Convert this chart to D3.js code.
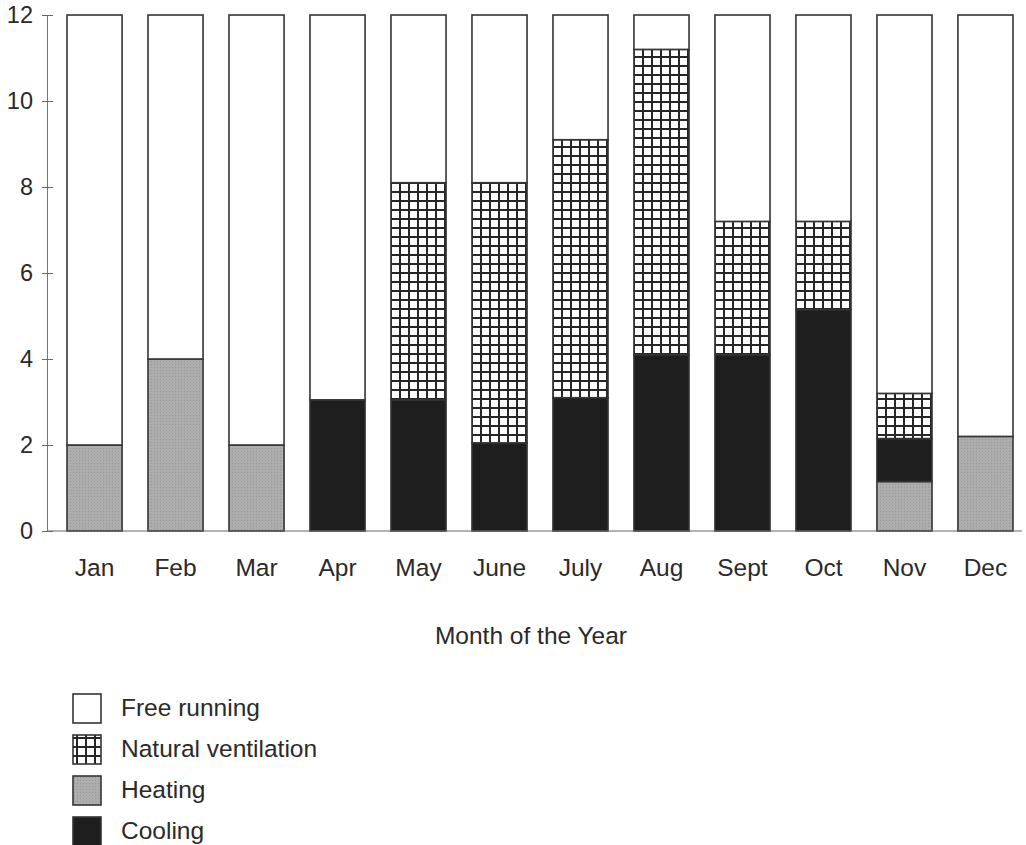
<!DOCTYPE html>
<html>
<head>
<meta charset="utf-8">
<script src="https://cdn.jsdelivr.net/npm/d3@7"></script>
<style>
  html, body { margin: 0; padding: 0; background: #fff; }
  svg text { font-family: "Liberation Sans", Arial, Helvetica, sans-serif; fill: #2a2a2a; }
</style>
</head>
<body>
<svg id="chart" width="1026" height="845"></svg>
<script>
// Hours per day in each operating mode, by month
const months = ["Jan", "Feb", "Mar", "Apr", "May", "June", "July", "Aug", "Sept", "Oct", "Nov", "Dec"];
const heating = [2, 4, 2, 0, 0, 0, 0, 0, 0, 0, 1.15, 2.2];
const cooling = [0, 0, 0, 3.05, 3.05, 2.05, 3.1, 4.1, 4.1, 5.15, 1.0, 0];
const naturalVentilation = [0, 0, 0, 0, 5.05, 6.05, 6.0, 7.1, 3.1, 2.05, 1.05, 0];
const freeRunning = [10, 8, 10, 8.95, 3.9, 3.9, 2.9, 0.8, 4.8, 4.8, 8.8, 9.8];
const yTicks = [0, 2, 4, 6, 8, 10, 12];

const seriesKeys = ["heating", "cooling", "ventilation", "free"];
const legendItems = [
  { key: "free", label: "Free running" },
  { key: "ventilation", label: "Natural ventilation" },
  { key: "heating", label: "Heating" },
  { key: "cooling", label: "Cooling" }
];

const rows = months.map((m, i) => ({
  month: m,
  heating: heating[i],
  cooling: cooling[i],
  ventilation: naturalVentilation[i],
  free: freeRunning[i]
}));

const svg = d3.select("#chart");

// Fill patterns: square grid for ventilation, fine stipple for heating
const defs = svg.append("defs");
const grid = defs.append("pattern")
  .attr("id", "gridHatch")
  .attr("patternUnits", "userSpaceOnUse")
  .attr("width", 9).attr("height", 9)
  .attr("x", 3).attr("y", 2);
grid.append("rect").attr("width", 9).attr("height", 9).attr("fill", "#fff");
grid.append("rect").attr("x", 0).attr("y", 0).attr("width", 9).attr("height", 2).attr("fill", "#262626");
grid.append("rect").attr("x", 0).attr("y", 0).attr("width", 2).attr("height", 9).attr("fill", "#262626");

const stipple = defs.append("pattern")
  .attr("id", "stipple")
  .attr("patternUnits", "userSpaceOnUse")
  .attr("width", 3).attr("height", 3);
stipple.append("rect").attr("width", 3).attr("height", 3).attr("fill", "#adadad");
stipple.append("rect").attr("x", 1).attr("y", 1).attr("width", 1).attr("height", 1).attr("fill", "#969696");

const fills = {
  heating: "url(#stipple)",
  cooling: "#1e1e1e",
  ventilation: "url(#gridHatch)",
  free: "#ffffff"
};

const x = d3.scaleBand()
  .domain(months)
  .range([67, 1013])
  .paddingInner(0.32)
  .paddingOuter(0);

const y = d3.scaleLinear()
  .domain([0, 12])
  .range([531, 15]);

const stacked = d3.stack().keys(seriesKeys)(rows);

// Stacked bars
const layers = svg.append("g").selectAll("g")
  .data(stacked)
  .join("g")
  .attr("fill", d => fills[d.key]);

layers.selectAll("rect")
  .data(d => d.filter(s => s[1] - s[0] > 0))
  .join("rect")
  .attr("x", d => x(d.data.month))
  .attr("width", x.bandwidth())
  .attr("y", d => y(d[1]))
  .attr("height", d => y(d[0]) - y(d[1]))
  .attr("stroke", "#353535")
  .attr("stroke-width", 1.6);

// Baseline
svg.append("line")
  .attr("x1", 47).attr("x2", 1022)
  .attr("y1", y(0)).attr("y2", y(0))
  .attr("stroke", "#666").attr("stroke-width", 1.2);

// Y axis
const yAxis = svg.append("g")
  .attr("transform", "translate(47,0)")
  .call(d3.axisLeft(y).tickValues(yTicks).tickSize(5).tickPadding(9).tickFormat(d3.format("d")));
yAxis.select(".domain").attr("stroke", "#777").attr("stroke-width", 1);
yAxis.selectAll(".tick line").attr("stroke", "#666").attr("x2", 6).attr("x1", -5);
yAxis.selectAll(".tick text")
  .attr("font-size", 23.5)
  .attr("fill", "#2a2a2a")
  .attr("font-family", "Liberation Sans, Arial, sans-serif");

// Month labels
svg.append("g").selectAll("text")
  .data(months)
  .join("text")
  .attr("x", d => x(d) + x.bandwidth() / 2)
  .attr("y", 576)
  .attr("text-anchor", "middle")
  .attr("font-size", 24.5)
  .text(d => d);

// Axis title
svg.append("text")
  .attr("x", 531).attr("y", 644)
  .attr("text-anchor", "middle")
  .attr("font-size", 24.5)
  .text("Month of the Year");

// Legend
const legend = svg.append("g").selectAll("g")
  .data(legendItems)
  .join("g")
  .attr("transform", (d, i) => `translate(73,${694 + i * 41})`);

legend.append("rect")
  .attr("width", 28).attr("height", 29)
  .attr("fill", d => fills[d.key])
  .attr("stroke", "#353535")
  .attr("stroke-width", 1.6);

legend.append("text")
  .attr("x", 48).attr("y", 13.5)
  .attr("dy", "0.36em")
  .attr("font-size", 24.5)
  .text(d => d.label);
</script>
</body>
</html>
